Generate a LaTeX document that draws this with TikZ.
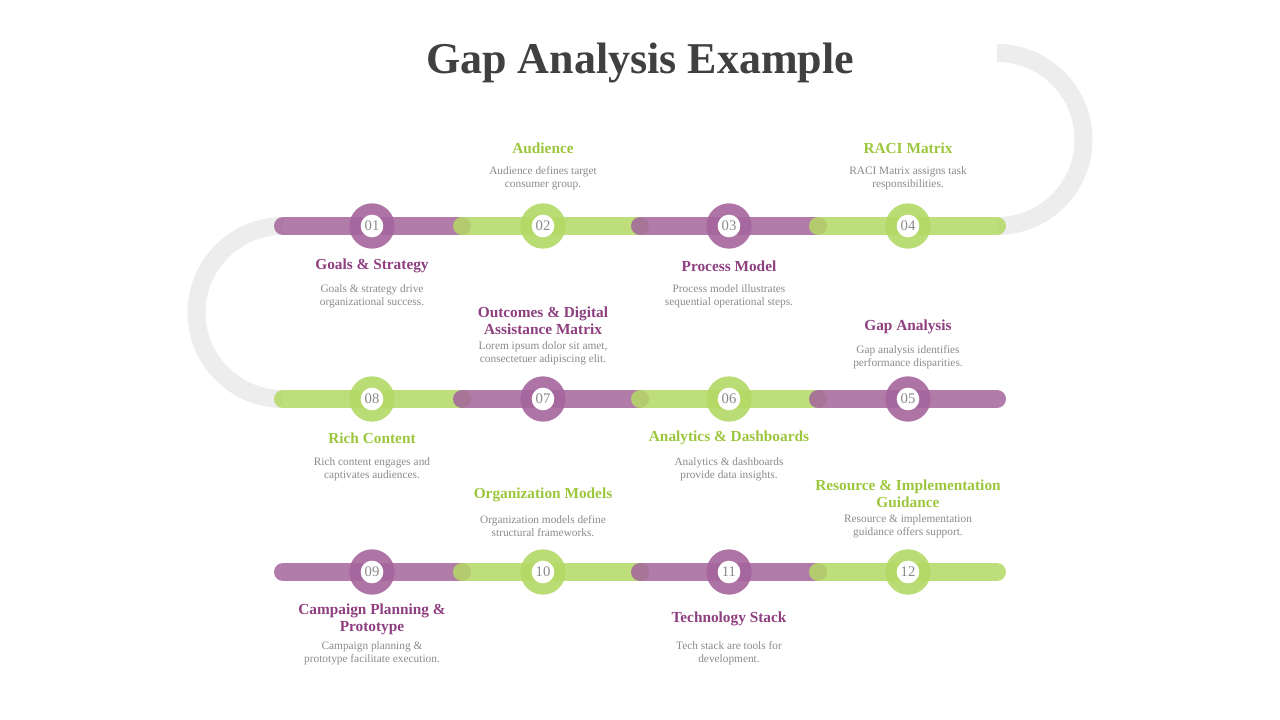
\documentclass[tikz,border=0pt]{standalone}
\usepackage{fontspec}
\setmainfont{Liberation Serif}
\definecolor{plum}{HTML}{A4659B}
\definecolor{plumtext}{HTML}{8E3F7F}
\definecolor{lime}{HTML}{B3D865}
\definecolor{limetext}{HTML}{9CC63C}
\definecolor{track}{HTML}{EDEDED}
\definecolor{desc}{HTML}{8A8A8A}
\tikzset{
  bar/.style={line width=13.5pt, line cap=round, opacity=0.85},
  ring/.style={circle, minimum size=34pt, inner sep=0},
  dot/.style={circle, fill=white, minimum size=17pt, inner sep=0, text=desc, font=\fontsize{11}{11}\selectfont},
  ttl/.style={font=\bfseries\fontsize{11.5}{12.5}\selectfont, align=center},
  txt/.style={font=\fontsize{8.5}{9.8}\selectfont, text=desc, align=center}
}
\newcommand{\milestone}[7]{%
  % #1 name, #2 x, #3 y, #4 colour, #5 title, #6 text, #7 side (+1 below, -1 above)
  \node[ring, fill=#4] (#1) at (#2,#3) {};
  \node[dot] (#1n) at (#1) {#1};
}
\begin{document}
\begin{tikzpicture}[x=0.75pt, y=-0.75pt]
  \useasboundingbox (0,0) rectangle (1280,720);
  \node[font=\bfseries\fontsize{33}{36}\selectfont, text=black!75] (title) at (640,63) {Gap Analysis Example};

  % connecting arcs
  \coordinate (r1end) at (997,226);
  \coordinate (r2end) at (283,399);
  \draw[track, line width=13.5pt] (r1end) arc[start angle=90, end angle=-90, radius=86.5];
  \draw[track, line width=13.5pt] (r2end) arc[start angle=90, end angle=270, radius=86.5];

  % bars
  \foreach \y/\ca/\cb in {226/plum/lime, 399/lime/plum, 572/plum/lime} {
    \coordinate (a) at (283,\y); \coordinate (b) at (462,\y);
    \coordinate (c) at (640,\y); \coordinate (d) at (818,\y);
    \coordinate (e) at (997,\y);
    \draw[bar, \ca] (a) -- (b);
    \draw[bar, \cb] (b) -- (c);
    \draw[bar, \ca] (c) -- (d);
    \draw[bar, \cb] (d) -- (e);
  }

  % milestones
  \foreach \n/\x/\y/\c in {01/372/226/plum, 02/543/226/lime, 03/729/226/plum, 04/908/226/lime,
                           05/908/399/plum, 06/729/399/lime, 07/543/399/plum, 08/372/399/lime,
                           09/372/572/plum, 10/543/572/lime, 11/729/572/plum, 12/908/572/lime} {
    \node[ring, fill=\c, opacity=0.9] (m\n) at (\x,\y) {};
    \node[dot] (m\n n) at (m\n) {\n};
  }

  % labels
  \node[ttl, text=plumtext] (t01) at (372,266) {Goals \& Strategy};
  \node[txt] (d01) at (372,296) {Goals \& strategy drive\\organizational success.};
  \node[ttl, text=limetext] (t02) at (543,148) {Audience};
  \node[txt] (d02) at (543,178) {Audience defines target\\consumer group.};
  \node[ttl, text=plumtext] (t03) at (729,266) {Process Model};
  \node[txt] (d03) at (729,296) {Process model illustrates\\sequential operational steps.};
  \node[ttl, text=limetext] (t04) at (908,148) {RACI Matrix};
  \node[txt] (d04) at (908,178) {RACI Matrix assigns task\\responsibilities.};

  \node[ttl, text=plumtext] (t05) at (908,327) {Gap Analysis};
  \node[txt] (d05) at (908,357) {Gap analysis identifies\\performance disparities.};
  \node[ttl, text=limetext] (t06) at (729,438) {Analytics \& Dashboards};
  \node[txt] (d06) at (729,469) {Analytics \& dashboards\\provide data insights.};
  \node[ttl, text=plumtext] (t07) at (543,321) {Outcomes \& Digital\\Assistance Matrix};
  \node[txt] (d07) at (543,353) {Lorem ipsum dolor sit amet,\\consectetuer adipiscing elit.};
  \node[ttl, text=limetext] (t08) at (372,438) {Rich Content};
  \node[txt] (d08) at (372,469) {Rich content engages and\\captivates audiences.};

  \node[ttl, text=plumtext] (t09) at (372,619) {Campaign Planning \&\\Prototype};
  \node[txt] (d09) at (372,653) {Campaign planning \&\\prototype facilitate execution.};
  \node[ttl, text=limetext] (t10) at (543,495) {Organization Models};
  \node[txt] (d10) at (543,526) {Organization models define\\structural frameworks.};
  \node[ttl, text=plumtext] (t11) at (729,619) {Technology Stack};
  \node[txt] (d11) at (729,653) {Tech stack are tools for\\development.};
  \node[ttl, text=limetext] (t12) at (908,494) {Resource \& Implementation\\Guidance};
  \node[txt] (d12) at (908,526) {Resource \& implementation\\guidance offers support.};
\end{tikzpicture}
\end{document}
